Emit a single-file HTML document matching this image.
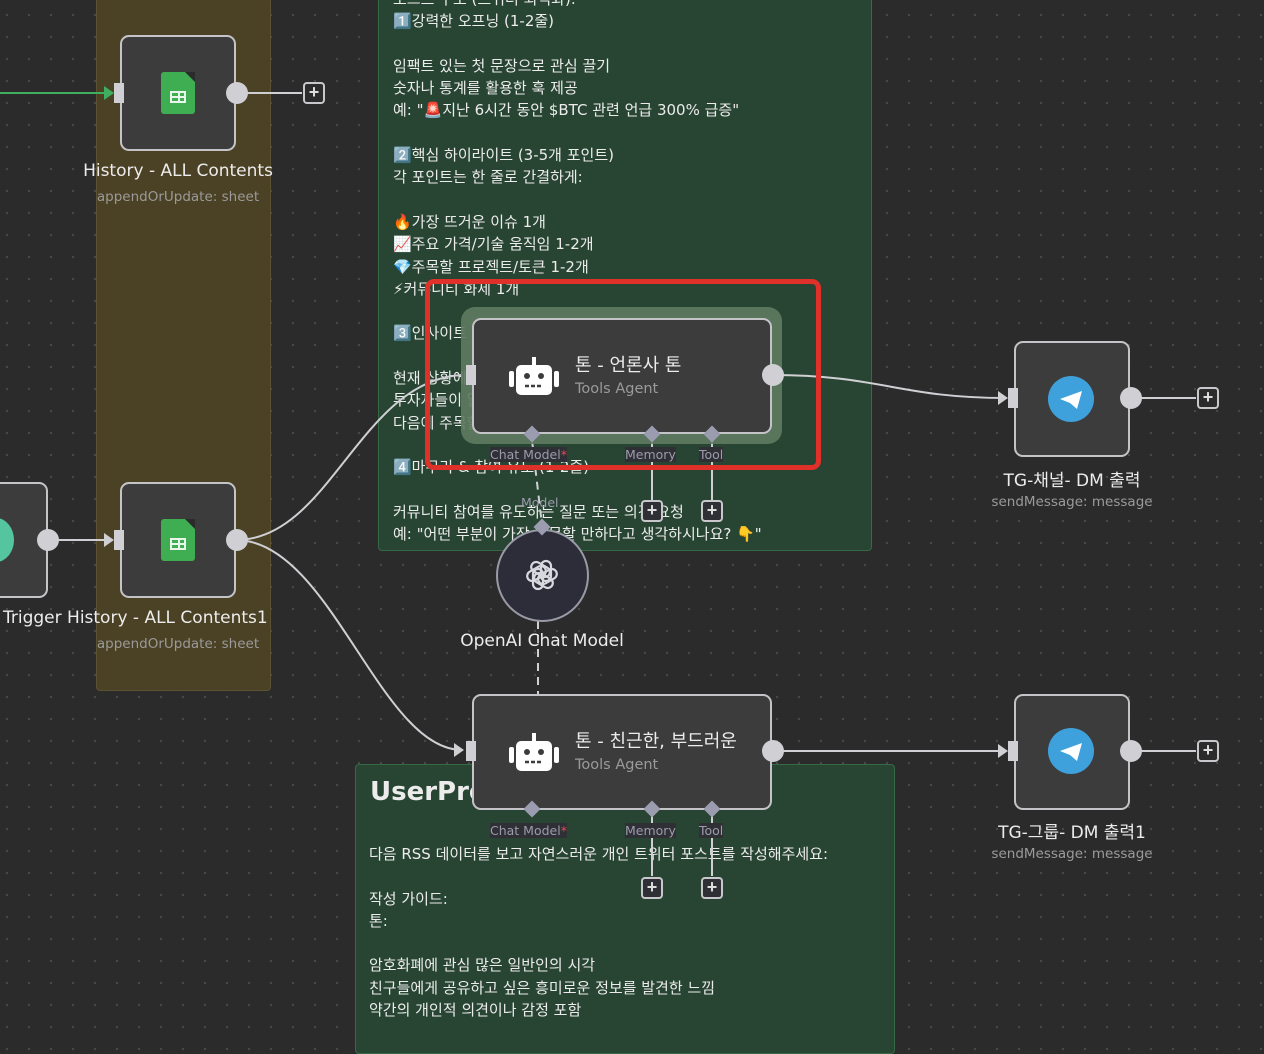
<!DOCTYPE html>
<html><head><meta charset="utf-8">
<style>
*{margin:0;padding:0;box-sizing:border-box}
body{width:1264px;height:1036px;overflow:hidden;position:relative;background-color:#2b2b2b;background-image:radial-gradient(#4a4a4a 1px,transparent 1.3px);background-size:22px 22px;background-position:-4px 4px;font-family:"DejaVu Sans","Noto Sans CJK KR",sans-serif;color:#e8e8e8}
.abs{position:absolute}
.sticky-y{left:96px;top:-4px;width:175px;height:695px;background:#4b4124;border:1px solid #5c5130;border-radius:4px}
.note{background:#284533;border:1px solid #366a46;border-radius:4px}
.node{background:#3c3c3d;border:2px solid #c4c4c8;border-radius:9px}
.lbl{position:absolute;text-align:center;white-space:nowrap}
.t1{font-size:17px;color:#ececec}
.t2{font-size:13.5px;color:#9a9a9a}
.txt{font-size:15px;line-height:22.3px;color:#ececec;white-space:pre}
.plus{position:absolute;width:22px;height:22px;border:2px solid #c8c8cc;border-radius:4px;background:#2b2b2b;color:#ddd;font-size:18px;line-height:17px;text-align:center;font-weight:bold;font-family:"Liberation Sans",sans-serif}
.hl{position:absolute;font-size:12.5px;color:#9b9bab;background:#2f2f36}
.dia{position:absolute;width:12px;height:12px;background:#9c9cb0;transform:rotate(45deg)}
.sheet{position:absolute;width:34px;height:42px;background:#3fae52;border-radius:3px}
.sheet:after{content:"";position:absolute;right:0;top:0;border-style:solid;border-width:0 10px 10px 0;border-color:transparent #2b2b2b transparent transparent}
.sheet i{position:absolute;left:9px;top:19px;width:16px;height:12px;border:2px solid #eaf6ec;background:linear-gradient(#eaf6ec,#eaf6ec) 0 3px/100% 2px no-repeat,linear-gradient(#eaf6ec,#eaf6ec) 6px 0/2px 100% no-repeat}
.tg{position:absolute;width:46px;height:46px;border-radius:50%;background:#3fa1dc}
</style></head><body>

<div class="abs sticky-y"></div>
<div class="abs note" style="left:378px;top:-6px;width:494px;height:557px"></div>
<div class="abs note" style="left:355px;top:764px;width:540px;height:290px"></div>

<div class="abs txt" style="left:393px;top:-12px">포스트 구조 (트위터 최적화):
1️⃣강력한 오프닝 (1-2줄)

임팩트 있는 첫 문장으로 관심 끌기
숫자나 통계를 활용한 훅 제공
예: "🚨지난 6시간 동안 $BTC 관련 언급 300% 급증"

2️⃣핵심 하이라이트 (3-5개 포인트)
각 포인트는 한 줄로 간결하게:

🔥가장 뜨거운 이슈 1개
📈주요 가격/기술 움직임 1-2개
💎주목할 프로젝트/토큰 1-2개
⚡커뮤니티 화제 1개

3️⃣인사이트 &amp; 분석

현재 상황에 대한 분석
투자자들이 알아야 할 점
다음에 주목할 포인트

4️⃣마무리 &amp; 참여 유도 (1-2줄)

커뮤니티 참여를 유도하는 질문 또는 의견 요청
예: "어떤 부분이 가장 주목할 만하다고 생각하시나요? 👇"</div>

<div class="abs" style="left:370px;top:777px;font-size:26px;font-weight:bold;color:#ececec">UserPrompt</div>
<div class="abs txt" style="left:369px;top:843px">다음 RSS 데이터를 보고 자연스러운 개인 트위터 포스트를 작성해주세요:

작성 가이드:
톤:

암호화폐에 관심 많은 일반인의 시각
친구들에게 공유하고 싶은 흥미로운 정보를 발견한 느낌
약간의 개인적 의견이나 감정 포함</div>

<svg class="abs" style="left:0;top:0" width="1264" height="1036">
<g fill="none" stroke="#cfcfd4" stroke-width="2">
<path d="M0 93 H112" stroke="#3fae60"/>
<path d="M48 540 H112"/>
<path d="M236 93 H302"/>
<path d="M236 540 C330 540 360 380 462 375"/>
<path d="M236 540 C330 540 380 750 462 750"/>
<path d="M772 375 C880 375 900 398 1006 398"/>
<path d="M772 751 H1006"/>
<path d="M1130 398 H1196"/>
<path d="M1130 751 H1196"/>
<path d="M652 440 V500"/><path d="M712 440 V500"/>
<path d="M652 815 V876"/><path d="M712 815 V876"/>
<path d="M532 440 L542 525" stroke-dasharray="8 6"/>
<path d="M538 621 V694" stroke-dasharray="8 6"/>
</g>
<g fill="#cfcfd4"><path d="M104 86 L114 93 L104 100Z" fill="#3fae60"/><path d="M104 533 L114 540 L104 547Z"/><path d="M454 743 L464 750 L454 757Z"/><path d="M998 391 L1008 398 L998 405Z"/><path d="M998 744 L1008 751 L998 758Z"/></g>
</svg>

<div class="abs node" style="left:-20px;top:482px;width:68px;height:116px"></div>
<div class="abs" style="left:-22px;top:518px;width:36px;height:44px;border-radius:50%;background:#55c5a0"></div>
<div class="abs" style="left:37px;top:529px;width:22px;height:22px;border-radius:50%;background:#cfcfd4"></div>

<div class="abs node" style="left:120px;top:35px;width:116px;height:116px"></div>
<div class="sheet" style="left:161px;top:72px"><i></i></div>
<div class="abs" style="left:114px;top:83px;width:10px;height:20px;background:#cfcfd4"></div>
<div class="abs" style="left:226px;top:82px;width:22px;height:22px;border-radius:50%;background:#cfcfd4"></div>
<div class="lbl t1" style="left:58px;width:240px;top:161px">History - ALL Contents</div>
<div class="lbl t2" style="left:58px;width:240px;top:189px">appendOrUpdate: sheet</div>
<div class="plus" style="left:303px;top:82px">+</div>

<div class="abs node" style="left:120px;top:482px;width:116px;height:116px"></div>
<div class="sheet" style="left:161px;top:519px"><i></i></div>
<div class="abs" style="left:114px;top:530px;width:10px;height:20px;background:#cfcfd4"></div>
<div class="abs" style="left:226px;top:529px;width:22px;height:22px;border-radius:50%;background:#cfcfd4"></div>
<div class="lbl t1" style="left:3px;top:608px;text-align:left">Trigger History - ALL Contents1</div>
<div class="lbl t2" style="left:58px;width:240px;top:636px">appendOrUpdate: sheet</div>

<div class="abs" style="left:461px;top:307px;width:321px;height:137px;background:#5e7a60;border-radius:14px;opacity:.9"></div>
<div class="abs node" style="left:472px;top:318px;width:300px;height:116px"></div>
<div class="abs" style="left:466px;top:365px;width:10px;height:20px;background:#cfcfd4"></div>
<div class="abs" style="left:762px;top:364px;width:22px;height:22px;border-radius:50%;background:#cfcfd4"></div>
<div class="abs" style="left:508px;top:357px"><svg width="52" height="40"><rect x="8" y="8" width="36" height="30" rx="5" fill="#fff"/><rect x="1" y="14" width="5" height="16" rx="2" fill="#fff"/><rect x="46" y="14" width="5" height="16" rx="2" fill="#fff"/><rect x="24" y="0" width="4" height="8" fill="#fff"/><circle cx="19" cy="19" r="3" fill="#3c3c3d"/><circle cx="33" cy="19" r="3" fill="#3c3c3d"/><path d="M17 29h18" stroke="#3c3c3d" stroke-width="2.5" stroke-dasharray="4 2"/></svg></div>
<div class="abs" style="left:575px;top:351px;font-size:18px;color:#ececec">톤 - 언론사 톤</div>
<div class="abs" style="left:575px;top:381px;font-size:14.5px;color:#9a9a9a">Tools Agent</div>
<div class="dia" style="left:526px;top:428px"></div><div class="dia" style="left:646px;top:428px"></div><div class="dia" style="left:706px;top:428px"></div>
<div class="hl" style="left:490px;top:447px">Chat Model<span style="color:#e05050">*</span></div>
<div class="hl" style="left:625px;top:447px">Memory</div>
<div class="hl" style="left:699px;top:447px">Tool</div>
<div class="plus" style="left:641px;top:500px;background:#2f2f36">+</div>
<div class="plus" style="left:701px;top:500px;background:#2f2f36">+</div>
<div class="abs" style="left:425px;top:279px;width:396px;height:191px;border:5px solid #e0302a;border-radius:9px"></div>

<div class="hl" style="left:521px;top:495px;background:transparent">Model</div>
<div class="abs" style="left:496px;top:529px;width:93px;height:93px;border-radius:50%;background:#2d2d3a;border:2px solid #9a9aa6"></div>
<div class="dia" style="left:536px;top:521px"></div>
<div class="abs" style="left:522px;top:555px"><svg width="40" height="40" viewBox="0 0 40 40" fill="none" stroke="#d8d8de" stroke-width="2.2"><g transform="translate(20 20)"><rect x="-5" y="-14" width="10" height="20" rx="5" transform="rotate(0) translate(4 0)"/><rect x="-5" y="-14" width="10" height="20" rx="5" transform="rotate(60) translate(4 0)"/><rect x="-5" y="-14" width="10" height="20" rx="5" transform="rotate(120) translate(4 0)"/><rect x="-5" y="-14" width="10" height="20" rx="5" transform="rotate(180) translate(4 0)"/><rect x="-5" y="-14" width="10" height="20" rx="5" transform="rotate(240) translate(4 0)"/><rect x="-5" y="-14" width="10" height="20" rx="5" transform="rotate(300) translate(4 0)"/></g></svg></div>
<div class="lbl" style="left:422px;width:240px;top:631px;font-size:17px;color:#ececec">OpenAI Chat Model</div>

<div class="abs node" style="left:472px;top:694px;width:300px;height:116px"></div>
<div class="abs" style="left:466px;top:741px;width:10px;height:20px;background:#cfcfd4"></div>
<div class="abs" style="left:762px;top:740px;width:22px;height:22px;border-radius:50%;background:#cfcfd4"></div>
<div class="abs" style="left:508px;top:733px"><svg width="52" height="40"><rect x="8" y="8" width="36" height="30" rx="5" fill="#fff"/><rect x="1" y="14" width="5" height="16" rx="2" fill="#fff"/><rect x="46" y="14" width="5" height="16" rx="2" fill="#fff"/><rect x="24" y="0" width="4" height="8" fill="#fff"/><circle cx="19" cy="19" r="3" fill="#3c3c3d"/><circle cx="33" cy="19" r="3" fill="#3c3c3d"/><path d="M17 29h18" stroke="#3c3c3d" stroke-width="2.5" stroke-dasharray="4 2"/></svg></div>
<div class="abs" style="left:575px;top:727px;font-size:18px;color:#ececec">톤 - 친근한, 부드러운</div>
<div class="abs" style="left:575px;top:757px;font-size:14.5px;color:#9a9a9a">Tools Agent</div>
<div class="dia" style="left:526px;top:803px"></div><div class="dia" style="left:646px;top:803px"></div><div class="dia" style="left:706px;top:803px"></div>
<div class="hl" style="left:490px;top:823px">Chat Model<span style="color:#e05050">*</span></div>
<div class="hl" style="left:625px;top:823px">Memory</div>
<div class="hl" style="left:699px;top:823px">Tool</div>
<div class="plus" style="left:641px;top:877px;background:#2f2f36">+</div>
<div class="plus" style="left:701px;top:877px;background:#2f2f36">+</div>

<div class="abs node" style="left:1014px;top:341px;width:116px;height:116px"></div>
<div class="tg" style="left:1048px;top:376px"></div>
<div class="abs" style="left:1059px;top:390px"><svg width="24" height="20"><path d="M1 9 L23 1 L18 19 L11 13 Z" fill="#fff"/></svg></div>
<div class="abs" style="left:1008px;top:388px;width:10px;height:20px;background:#cfcfd4"></div>
<div class="abs" style="left:1120px;top:387px;width:22px;height:22px;border-radius:50%;background:#cfcfd4"></div>
<div class="plus" style="left:1197px;top:387px">+</div>
<div class="lbl t1" style="left:952px;width:240px;top:466px">TG-채널- DM 출력</div>
<div class="lbl t2" style="left:952px;width:240px;top:494px">sendMessage: message</div>

<div class="abs node" style="left:1014px;top:694px;width:116px;height:116px"></div>
<div class="tg" style="left:1048px;top:728px"></div>
<div class="abs" style="left:1059px;top:742px"><svg width="24" height="20"><path d="M1 9 L23 1 L18 19 L11 13 Z" fill="#fff"/></svg></div>
<div class="abs" style="left:1008px;top:741px;width:10px;height:20px;background:#cfcfd4"></div>
<div class="abs" style="left:1120px;top:740px;width:22px;height:22px;border-radius:50%;background:#cfcfd4"></div>
<div class="plus" style="left:1197px;top:740px">+</div>
<div class="lbl t1" style="left:952px;width:240px;top:818px">TG-그룹- DM 출력1</div>
<div class="lbl t2" style="left:952px;width:240px;top:846px">sendMessage: message</div>

</body></html>
